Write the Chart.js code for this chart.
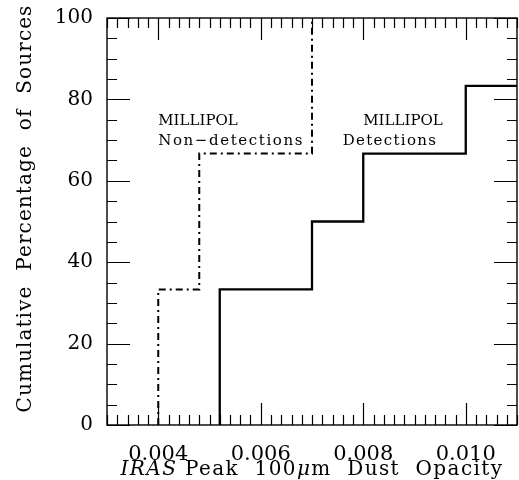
<!DOCTYPE html>
<html>
<head>
<meta charset="utf-8">
<script src="https://cdn.jsdelivr.net/npm/chart.js@4.4.1/dist/chart.umd.min.js"></script>
<style>
  html, body { margin: 0; padding: 0; background: #fff; }
  #wrap { width: 519px; height: 480px; position: relative; }
</style>
</head>
<body>
<div id="wrap"><canvas id="cdfChart"></canvas></div>
<script>
// cumulative fraction of sources vs. peak 100um dust opacity
const nonDetOpacity = [0.0040, 0.0048, 0.0070];
const nonDetPercent = [33.3, 66.7, 100];
const detOpacity = [0.0052, 0.0070, 0.0080, 0.0100];
const detPercent = [33.3, 50.0, 66.7, 83.3];
const xTickLabels = [0.004, 0.006, 0.008, 0.010];
const yTickLabels = [0, 20, 40, 60, 80, 100];
const xMin = 0.003, xMax = 0.011;
const yMin = 0, yMax = 100;

const FONT = '"DejaVu Serif", "Liberation Serif", serif';

// build step outline: start at zero, then one point per source
function stepPoints(xs, ys, xEnd) {
  const pts = [{ x: xs[0], y: 0 }];
  xs.forEach((x, i) => pts.push({ x: x, y: ys[i] }));
  if (xEnd !== undefined) pts.push({ x: xEnd, y: ys[ys.length - 1] });
  return pts;
}

// boxed frame with inward ticks on all four sides, plus text labels
const framePlugin = {
  id: 'framePlugin',
  afterDatasetsDraw(chart) {
    const { ctx, chartArea: a, scales: { x, y } } = chart;
    ctx.save();
    ctx.strokeStyle = '#000';
    ctx.lineWidth = 1.4;
    ctx.strokeRect(a.left, a.top, a.right - a.left, a.bottom - a.top);

    ctx.lineWidth = 1.2;
    ctx.beginPath();
    for (let i = 0; i <= 40; i++) {
      const px = Math.round(x.getPixelForValue(xMin + i * 0.0002)) + 0.5;
      const len = (i % 10 === 5) ? 22 : 10;
      ctx.moveTo(px, a.bottom); ctx.lineTo(px, a.bottom - len);
      ctx.moveTo(px, a.top); ctx.lineTo(px, a.top + len);
    }
    for (let i = 0; i <= 20; i++) {
      const py = Math.round(y.getPixelForValue(yMin + i * 5)) + 0.5;
      const len = (i % 4 === 0) ? 23 : 10;
      ctx.moveTo(a.left, py); ctx.lineTo(a.left + len, py);
      ctx.moveTo(a.right, py); ctx.lineTo(a.right - len, py);
    }
    ctx.stroke();

    // in-plot labels
    ctx.fillStyle = '#000';
    ctx.font = '15px ' + FONT;
    ctx.textAlign = 'left';
    ctx.textBaseline = 'alphabetic';
    ctx.fillText('MILLIPOL', x.getPixelForValue(0.00400), y.getPixelForValue(73.7));
    ctx.fillText('MILLIPOL', x.getPixelForValue(0.00800), y.getPixelForValue(73.7));
    ctx.letterSpacing = '1.6px';
    ctx.fillText('Non\u2212detections', x.getPixelForValue(0.00400), y.getPixelForValue(68.8));
    ctx.letterSpacing = '1.3px';
    ctx.fillText('Detections', x.getPixelForValue(0.00760), y.getPixelForValue(68.8));

    // x axis title, mixed italic
    const parts = [
      { t: 'IRAS', it: true },
      { t: ' Peak  100', it: false },
      { t: '\u03bc', it: true },
      { t: 'm  Dust  Opacity', it: false }
    ];
    const size = 20;
    ctx.letterSpacing = '1.4px';
    let total = 0;
    parts.forEach(p => {
      ctx.font = (p.it ? 'italic ' : '') + size + 'px ' + FONT;
      p.w = ctx.measureText(p.t).width;
      total += p.w;
    });
    let cx = (a.left + a.right) / 2 - total / 2;
    parts.forEach(p => {
      ctx.font = (p.it ? 'italic ' : '') + size + 'px ' + FONT;
      ctx.fillText(p.t, cx, 475);
      cx += p.w;
    });

    // y axis title
    ctx.letterSpacing = '1.1px';
    ctx.font = size + 'px ' + FONT;
    ctx.translate(31, (a.top + a.bottom) / 2 - 13);
    ctx.rotate(-Math.PI / 2);
    ctx.textAlign = 'center';
    ctx.fillText('Cumulative  Percentage  of  Sources', 0, 0);
    ctx.restore();
  }
};

new Chart(document.getElementById('cdfChart'), {
  type: 'scatter',
  data: {
    datasets: [
      {
        label: 'MILLIPOL Non-detections',
        data: stepPoints(nonDetOpacity, nonDetPercent),
        showLine: true,
        stepped: true,
        borderColor: '#000',
        borderWidth: 2,
        borderDash: [7, 4, 2, 4],
        pointRadius: 0
      },
      {
        label: 'MILLIPOL Detections',
        data: stepPoints(detOpacity, detPercent, xMax),
        showLine: true,
        stepped: true,
        borderColor: '#000',
        borderWidth: 2.3,
        pointRadius: 0
      }
    ]
  },
  options: {
    responsive: true,
    maintainAspectRatio: false,
    animation: false,
    layout: { padding: { top: 18, right: 2, left: 35, bottom: 15 } },
    plugins: {
      legend: { display: false },
      tooltip: { enabled: false }
    },
    scales: {
      x: {
        type: 'linear',
        min: xMin,
        max: xMax,
        afterBuildTicks: (axis) => { axis.ticks = xTickLabels.map(v => ({ value: v })); },
        afterFit: (scale) => { scale.height = 40; scale.paddingLeft = 0; scale.paddingRight = 0; },
        grid: { display: false, drawTicks: false },
        border: { display: false },
        ticks: {
          color: '#000',
          padding: 17,
          maxRotation: 0,
          font: { family: FONT, size: 21 },
          callback: (v) => v.toFixed(3)
        }
      },
      y: {
        type: 'linear',
        min: yMin,
        max: yMax,
        afterBuildTicks: (axis) => { axis.ticks = yTickLabels.map(v => ({ value: v })); },
        afterFit: (scale) => { scale.width = 72; scale.paddingTop = 0; scale.paddingBottom = 0; },
        grid: { display: false, drawTicks: false },
        border: { display: false },
        ticks: {
          color: '#000',
          padding: 14,
          font: { family: FONT, size: 20 }
        }
      }
    }
  },
  plugins: [framePlugin]
});
</script>
</body>
</html>
